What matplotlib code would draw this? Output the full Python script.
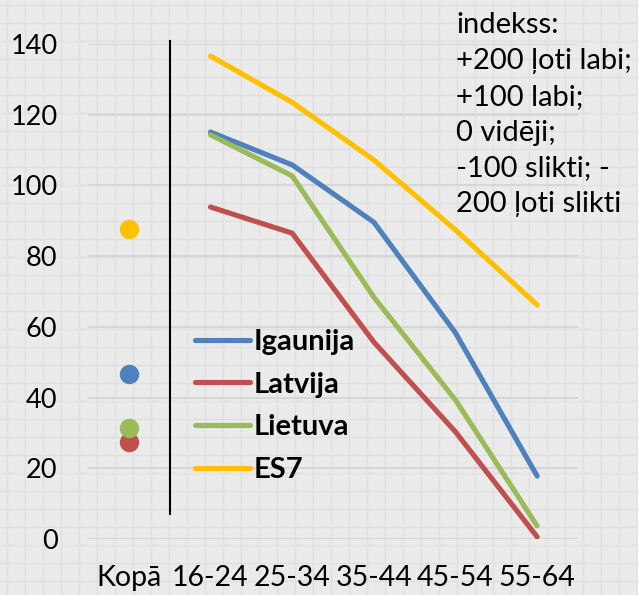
import numpy as np
import matplotlib
matplotlib.use("Agg")
import matplotlib.pyplot as plt

plt.rcParams['font.family'] = ['Lato', 'DejaVu Sans']

# dati
categories = ['Kopā', '16-24', '25-34', '35-44', '45-54', '55-64']
series_names = ['Igaunija', 'Latvija', 'Lietuva', 'ES7']
kopa = [46.7, 27.4, 31.4, 87.7]
igaunija = [115.1, 105.8, 89.6, 58.3, 17.8]
latvija = [93.9, 86.5, 55.7, 30.3, 0.6]
lietuva = [114.3, 102.7, 68.4, 39.3, 3.7]
es7 = [136.6, 123.5, 107.2, 87.4, 66.2]
yticks = [0, 20, 40, 60, 80, 100, 120, 140]
note = "indekss:\n+200 ļoti labi;\n+100 labi;\n0 vidēji;\n-100 slikti; -\n200 ļoti slikti"
colors = ['#4f81bd', '#c0504d', '#9bbb59', '#ffc000']


def draw_chart():
    fig = plt.figure(figsize=(6.38, 5.95), dpi=100)
    fig.patch.set_facecolor('#ebebeb')

    # fona rūtiņas
    bg = fig.add_axes([0, 0, 1, 1], zorder=-5)
    bg.set_xlim(0, 638)
    bg.set_ylim(595, 0)
    bg.axis('off')
    for v in np.arange(7, 638, 18):
        bg.axvline(v, color='#e0e0e0', lw=1)
    for v in np.arange(5, 595, 18):
        bg.axhline(v, color='#e0e0e0', lw=1)

    ax = fig.add_axes([88 / 638, 1 - 539 / 595, 490 / 638, 495 / 595])
    ax.patch.set_alpha(0)
    x = np.arange(len(categories))

    all_series = [igaunija, latvija, lietuva, es7]
    for i, (name, vals) in enumerate(zip(series_names, all_series)):
        ax.plot(x[1:], vals, color=colors[i], lw=3.7, label=name,
                solid_capstyle='round', solid_joinstyle='round', zorder=3)
        ax.plot(x[0], kopa[i], 'o', color=colors[i], ms=14, mec='none', zorder=3)

    # atdalītājs
    ax.plot([0.5, 0.5], [7, 140.8], color='black', lw=1.5, clip_on=False, zorder=2)

    ax.set_xlim(-0.5, len(categories) - 0.5)
    ax.set_ylim(0, 140)
    ax.set_yticks(yticks)
    ax.set_xticks(x)
    ax.set_xticklabels(categories)
    ax.grid(axis='y', color='#d6d6d6', lw=1.5)
    ax.set_axisbelow(True)
    for s in ax.spines.values():
        s.set_visible(False)
    ax.tick_params(axis='y', length=0, pad=22, labelsize=19.5)
    ax.tick_params(axis='x', length=0, pad=19, labelsize=20.5)

    ax.legend(loc='upper left', bbox_to_anchor=(195 / 638, 1 - 329 / 595),
              bbox_transform=fig.transFigure, frameon=False, borderpad=0,
              borderaxespad=0, handlelength=1.9, handletextpad=0.1,
              labelspacing=0.57, prop={'weight': 'bold', 'size': 21})

    fig.text(456 / 638, 1 - 12 / 595, note, ha='left', va='top',
             fontsize=21, linespacing=1.47)

    fig.savefig('out.png', dpi=100, facecolor=fig.get_facecolor())


if __name__ == '__main__':
    draw_chart()
